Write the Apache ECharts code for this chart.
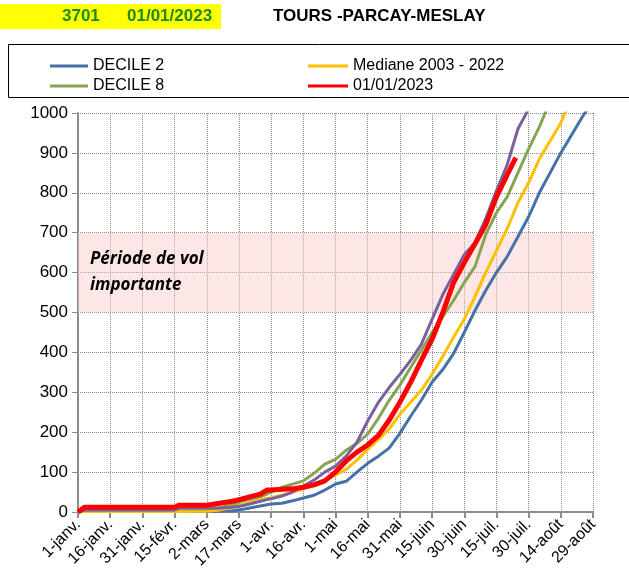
<!DOCTYPE html>
<html>
<head>
<meta charset="utf-8">
<script src="https://cdn.jsdelivr.net/npm/echarts@6/dist/echarts.min.js"></script>
<style>html,body{margin:0;padding:0;background:#fff}#c{width:629px;height:573px}</style>
</head>
<body>
<div id="c"></div>
<script>
// Day index counted from 1 January
var days = [0,3,15,30,45,47,60,66,72,76,80,85,88,90,95,100,105,110,115,120,125,130,135,140,145,150,155,160,165,170,175,180,185,190,195,200,204,205,210,215,220,225,230,235,240];
var decile2 =  [0,2,2,2,2,2,2,2,3,6,10,15,18,20,22,28,35,42,55,70,77,100,122,140,160,197,240,280,325,357,397,450,505,555,600,640,null,690,740,800,850,900,945,990,1030];
var decile8 =  [0,5,5,5,5,8,8,10,18,27,32,38,45,50,62,70,78,97,120,132,155,172,195,235,280,318,362,405,450,490,530,575,615,695,750,790,null,850,910,965,1030,null,null,null,null];
var mediane =  [0,1,1,1,1,1,2,5,12,18,24,30,34,36,42,50,58,68,80,93,107,130,157,182,208,245,275,305,345,390,438,483,540,600,655,710,null,775,825,885,930,975,1040,null,null];
var annee2022 = [0,5,5,5,5,10,10,10,12,15,20,27,31,33,40,50,65,80,100,115,140,175,228,275,312,345,380,420,483,545,595,645,675,735,805,870,null,960,1010,null,null,null,null,null,null];
var y2023 =    [0,12,12,12,12,17,17,22,27,32,38,45,55,55,57,58,62,68,78,100,128,150,168,192,230,275,325,380,433,500,575,625,672,720,790,845,888,null,null,null,null,null,null,null,null];
var tickLabels = ['1-janv.','16-janv.','31-janv.','15-févr.','2-mars','17-mars','1-avr.','16-avr.','1-mai','16-mai','31-mai','15-juin','30-juin','15-juil.','30-juil.','14-août','29-août'];

function pairs(vals){ return days.map(function(d,i){ return [d, vals[i]]; }); }

var chart = echarts.init(document.getElementById('c'));
var font = 'Arial, "Liberation Sans", sans-serif';
chart.setOption({
  animation: false,
  textStyle: { fontFamily: font },
  graphic: [
    { type: 'rect', shape: { x: 0, y: 4, width: 221, height: 25 }, style: { fill: '#ffff00' }, z: 0 },
    { type: 'text', left: 62, top: 8, style: { text: '3701', fill: '#1f8a1f', font: 'bold 17px ' + font } },
    { type: 'text', left: 127, top: 8, style: { text: '01/01/2023', fill: '#1f8a1f', font: 'bold 17px ' + font } },
    { type: 'text', left: 273, top: 8, style: { text: 'TOURS -PARCAY-MESLAY', fill: '#000', font: 'bold 17px ' + font } },
    { type: 'rect', shape: { x: 8.5, y: 44.5, width: 660, height: 53 }, style: { fill: 'none', stroke: '#000', lineWidth: 1 } }
  ],
  legend: [
    { data: ['DECILE 2', 'DECILE 8'], orient: 'vertical', left: 45, top: 53, itemWidth: 38, itemHeight: 3, itemGap: 4, icon: 'rect',
      textStyle: { fontSize: 16, color: '#000', fontFamily: font } },
    { data: ['Mediane 2003 - 2022', '01/01/2023'], orient: 'vertical', left: 303, top: 53, itemWidth: 40, itemHeight: 3, itemGap: 4, icon: 'rect',
      textStyle: { fontSize: 16, color: '#000', fontFamily: font } }
  ],
  grid: { left: 78, right: 36, top: 113, bottom: 61 },
  xAxis: {
    type: 'value', min: 0, max: 240, interval: 15,
    axisLine: { lineStyle: { color: '#8c8c8c', width: 2 } },
    axisTick: { show: true, length: 6, lineStyle: { color: '#8c8c8c', width: 2 } },
    splitLine: { show: true, lineStyle: { color: '#888', type: 'dotted', width: 1 } },
    axisLabel: { rotate: 45, fontSize: 16, color: '#000', margin: 10,
      formatter: function (v) { return tickLabels[Math.round(v / 15)] || ''; } }
  },
  yAxis: {
    type: 'value', min: 0, max: 1000, interval: 100,
    axisLine: { show: true, lineStyle: { color: '#8c8c8c', width: 2 } },
    axisTick: { show: true, length: 6, lineStyle: { color: '#8c8c8c', width: 1 } },
    splitLine: { show: true, lineStyle: { color: '#888', type: 'dotted', width: 1 } },
    axisLabel: { fontSize: 17, color: '#000', margin: 10, formatter: function (v) { return String(v); } }
  },
  series: [
    { name: 'DECILE 2', type: 'line', data: pairs(decile2), symbol: 'none', connectNulls: true,
      lineStyle: { color: '#4472a8', width: 3 }, itemStyle: { color: '#4472a8' },
      markArea: { silent: true, itemStyle: { color: 'rgba(250,200,200,0.45)' },
        label: { show: true, position: 'insideLeft', distance: 12, formatter: 'Période de vol\nimportante',
          fontFamily: '"Open Sans", "Noto Sans", sans-serif', fontStyle: 'italic', fontWeight: 'bold', fontSize: 17, lineHeight: 26, color: '#000' },
        data: [[{ xAxis: 0, yAxis: 500 }, { xAxis: 240, yAxis: 700 }]] } },
    { name: 'Mediane 2003 - 2022', type: 'line', data: pairs(mediane), symbol: 'none', connectNulls: true,
      lineStyle: { color: '#ffc000', width: 3 }, itemStyle: { color: '#ffc000' } },
    { name: 'DECILE 8', type: 'line', data: pairs(decile8), symbol: 'none', connectNulls: true,
      lineStyle: { color: '#86a452', width: 3 }, itemStyle: { color: '#86a452' } },
    { name: '2022', type: 'line', data: pairs(annee2022), symbol: 'none', connectNulls: true,
      lineStyle: { color: '#7b5f9e', width: 3 }, itemStyle: { color: '#7b5f9e' } },
    { name: '01/01/2023', type: 'line', data: pairs(y2023), symbol: 'none', connectNulls: true,
      lineStyle: { color: '#ff0000', width: 5 }, itemStyle: { color: '#ff0000' } }
  ]
});
</script>
</body>
</html>
